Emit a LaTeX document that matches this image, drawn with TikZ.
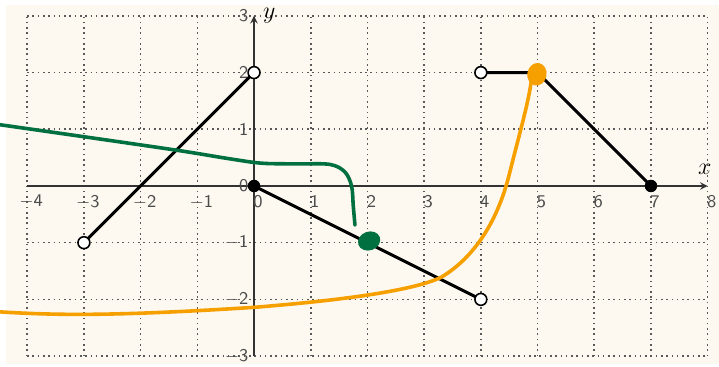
\documentclass[tikz,border=0pt]{standalone}
\usepackage{amsmath,amssymb}
\usetikzlibrary{arrows}
\definecolor{cream}{HTML}{FDF8F0}
\definecolor{dgreen}{HTML}{007040}
\definecolor{amber}{HTML}{F6A000}
\newcommand\lab[1]{\textsf{#1}}
\newcommand\mn{$-$}
\tikzset{dots/.style={dash pattern=on 0.8pt off 1.85pt, line width=0.8pt, black!65},
  tick/.style={font=\small, text=black!70, inner sep=1.5pt},
  seg/.style={line width=1.5pt, black},
  open/.style={fill=white, draw=black, line width=0.8pt},
  hand/.style={line width=1.8pt, line cap=round}}

\begin{document}
\begin{tikzpicture}[>=stealth]
\useasboundingbox (-4.48,-3.19) rectangle (8.2,3.28);
\fill[cream] (-4.37,-3.14) rectangle (8.2,3.19);
\foreach\x in{-4,...,8} \draw[dots] (\x,-3)--(\x,3);
\foreach\y in{-3,...,3} \draw[dots] (-4,\y)--(8,\y);
\draw[->, black!80, line width=0.7pt] (-4,0)--(8,0);
\draw[->, black!80, line width=0.7pt] (0,-3)--(0,3);
\node[font=\large] (xl) at (7.95,0.3) {$x$};
\node[font=\large] (yl) at (0.27,3.0) {$y$};
\foreach\x in{0,...,8} \node[tick] (tx\x) at (\x+0.07,-0.28) {\lab{\x}};
\foreach\x in{1,...,4} \node[tick] (tm\x) at (-\x+0.07,-0.28) {\mn\lab{\x}};
\foreach\y in{0,...,3} \node[tick, left] (ty\y) at (-0.04,\y) {\lab{\y}};
\foreach\y in{1,...,3} \node[tick, left] (tn\y) at (-0.04,-\y) {\mn\lab{\y}};
\coordinate (a) at (-3,-1);
\coordinate (b) at (0,2);
\coordinate (c) at (0,0);
\coordinate (d) at (4,-2);
\coordinate (e) at (4,2);
\coordinate (f) at (5,2);
\coordinate (g) at (7,0);
\draw[seg] (a)--(b);
\draw[seg] (c)--(d);
\draw[seg] (e)--(f)--(g);
\foreach\p in{a,b,d,e} \filldraw[open] (\p) circle(0.105);
\foreach\p in{c,g} \fill (\p) circle(0.11);
\draw[hand, dgreen] plot[smooth, tension=0.55] coordinates {(-4.48,1.08) (-3.01,0.87) (-1.36,0.63) (-0.37,0.47) (0.16,0.4) (0.8,0.39) (1.34,0.38) (1.6,0.25) (1.72,0) (1.75,-0.35) (1.78,-0.69)};
\fill[dgreen, shift={(2.03,-0.97)}, rotate=20] (0,0) ellipse (0.2 and 0.165);
\draw[hand, amber] (-4.48,-2.22) .. controls (-3.5,-2.28) and (-2.5,-2.3) .. (0,-2.14)
  .. controls (1.5,-2.02) and (2.8,-1.85) .. (3.3,-1.61)
  .. controls (3.9,-1.25) and (4.3,-0.6) .. (4.5,0.2)
  .. controls (4.7,1.0) and (4.85,1.5) .. (4.9,1.93);
\fill[amber, shift={(4.99,1.97)}, rotate=-10] (0,0) ellipse (0.17 and 0.2);
\end{tikzpicture}
\end{document}
